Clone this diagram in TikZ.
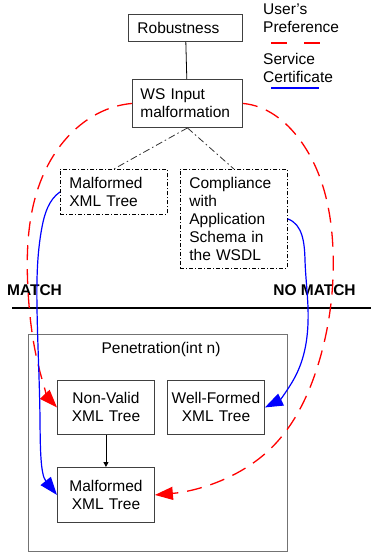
\documentclass[tikz,border=0pt]{standalone}
\usepackage{fontspec}
\setmainfont{Liberation Sans}
\usetikzlibrary{arrows.meta, calc, hobby}

\begin{document}
\begin{tikzpicture}[x=1pt, y=1pt,
            every node/.style={font=\fontsize{15.5}{18}\selectfont},
            box/.style={draw=black!75, line width=0.9pt, anchor=north west, inner xsep=8pt, inner ysep=0pt},
            dashdotbox/.style={box, draw=black, line width=0.8pt, dash pattern=on 4pt off 2pt on 1pt off 2pt},
            pref/.style={red, line width=1.3pt, dash pattern=on 15pt off 9pt},
            cert/.style={blue, line width=1.2pt},
            big tip/.style={-{Triangle[length=18pt, width=13pt]}}
            ]
            \useasboundingbox (0,0) rectangle (371,-553);

            \node[box, minimum width=114pt, minimum height=27pt, text width=96pt, inner xsep=9pt, align=left] (rob) at (128,-14) {Robustness};
            \node[box, minimum width=110pt, minimum height=48pt, text width=94pt, align=left] (ws) at (132,-79) {WS Input\\malformation};
            \node[dashdotbox, minimum width=107pt, minimum height=45pt, text width=89pt, inner xsep=9pt, align=left] (mal1) at (60,-169) {Malformed\\XML Tree};
            \node[dashdotbox, minimum width=107pt, minimum height=99pt, text width=89pt, inner xsep=9pt, align=left] (comp) at (180,-169) {Compliance\\with\\Application\\Schema in\\the WSDL};

            \node[box, draw=black!55, line width=1.1pt, minimum width=259pt, minimum height=217pt] (pen) at (28,-334) {};
            \node (pentitle) at (161,-349) {Penetration(int n)};
            \node[box, minimum width=97pt, minimum height=54pt, text width=93pt, inner xsep=2pt, align=center] (nv) at (57,-380) {Non-Valid\\XML Tree};
            \node[box, minimum width=97pt, minimum height=54pt, text width=93pt, inner xsep=2pt, align=center] (wf) at (167,-380) {Well-Formed\\XML Tree};
            \node[box, minimum width=97pt, minimum height=55pt, text width=93pt, inner xsep=2pt, align=center] (mal2) at (57,-467) {Malformed\\XML Tree};

            % legend
            \node[anchor=north west, inner sep=0pt, align=left] (prefleg) at (263,-4) {User's\\Preference};
            \node[anchor=north west, inner sep=0pt, align=left] (certleg) at (263,-53) {Service\\Certificate};
            \coordinate (prefA) at (271,-43);
            \coordinate (prefB) at (320,-43);
            \coordinate (certA) at (271,-88);
            \coordinate (certB) at (319,-88);
            \draw[red, line width=1.3pt, dash pattern=on 16pt off 17pt] (prefA) -- (prefB);
            \draw[cert] (certA) -- (certB);

            % match line
            \node[font=\fontsize{15.5}{18}\selectfont\bfseries] (match) at (34.5,-290) {MATCH};
            \node[font=\fontsize{15.5}{18}\selectfont\bfseries] (nomatch) at (314.5,-290) {NO MATCH};
            \coordinate (cutL) at (12,-308);
            \coordinate (cutR) at (371,-308);
            \draw[line width=2.2pt] (cutL) -- (cutR);

            % tree
            \draw[line width=0.8pt] (rob) -- (ws);
            \draw[black!80, line width=0.8pt, dash pattern=on 7pt off 3pt on 1.5pt off 3pt] (ws.south) -- (mal1.north);
            \draw[black!80, line width=0.8pt, dash pattern=on 7pt off 3pt on 1.5pt off 3pt] (ws.south) -- (comp.north);
            \draw[-{Triangle[length=5pt, width=5pt]}, line width=0.8pt] (nv) -- (mal2);

            % user's preference
            \draw[pref, big tip] (ws.west) to[out angle=185, in angle=133, curve through = {(48,-165) (28,-290) (40,-372)}] (nv.west);
            \draw[pref, big tip] (ws.east) to[out angle=-5, in angle=5, curve through = {(300,-140) (333,-250) (318,-365) (267,-452)}] (mal2.east);

            % service certificate
            \draw[cert, big tip] (mal1.west) to[out angle=215, in angle=129, curve through = {(42,-227) (37,-308) (40,-420)}] (mal2.west);
            \draw[cert, big tip] (comp.east) to[out angle=-20, in angle=26, curve through = {(305,-260) (308,-308) (297,-373)}] (wf.east);
        \end{tikzpicture}
\end{document}
